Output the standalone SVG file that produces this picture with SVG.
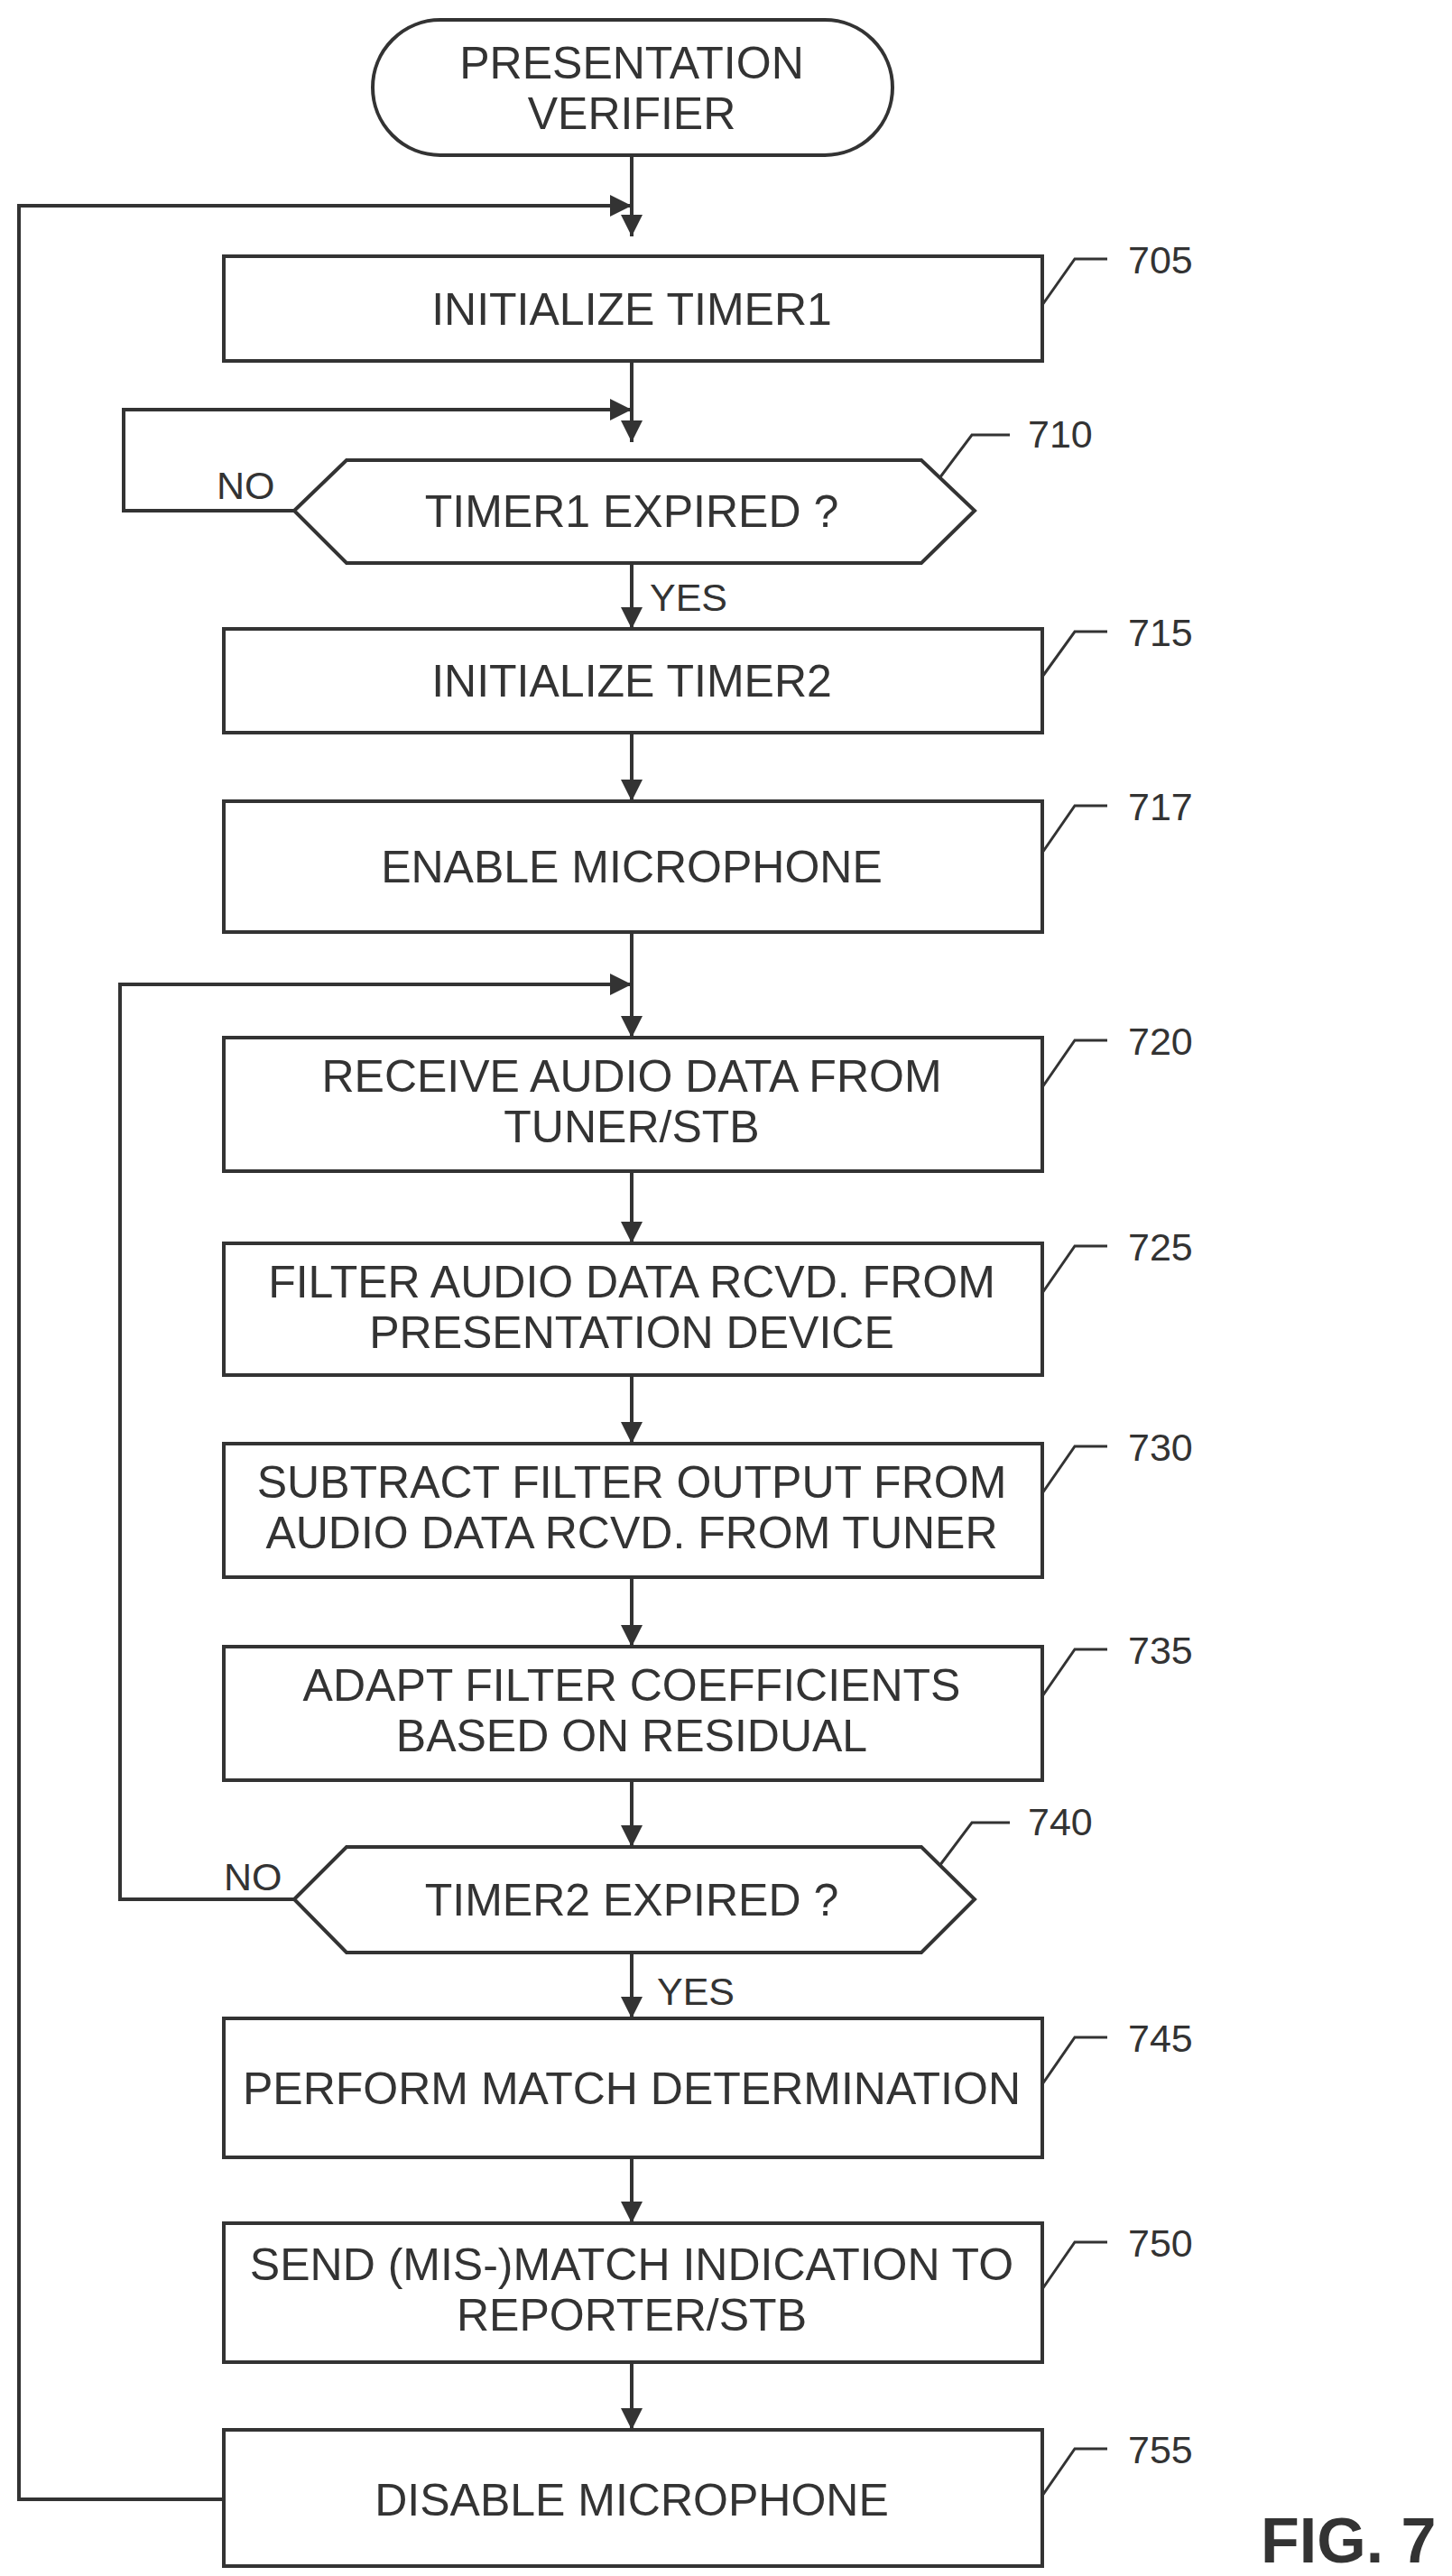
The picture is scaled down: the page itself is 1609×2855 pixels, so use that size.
<svg xmlns="http://www.w3.org/2000/svg" width="1609" height="2855" viewBox="0 0 1609 2855">
<defs>
<marker id="ah" markerWidth="10" markerHeight="10" refX="10" refY="5" orient="auto" markerUnits="userSpaceOnUse" viewBox="0 0 10 10" style="overflow:visible">
<path d="M0,0 L10,5 L0,10 Z" fill="#333" transform="scale(2.4)" transform-origin="10 5"/>
</marker>
<style>
.b{fill:#fff;stroke:#333;stroke-width:4}
.t{font-family:"Liberation Sans",Arial,sans-serif;font-size:50px;fill:#333;text-anchor:middle}
.n{font-family:"Liberation Sans",Arial,sans-serif;font-size:43px;fill:#333}
.c{fill:none;stroke:#333;stroke-width:4}
.l{fill:none;stroke:#333;stroke-width:3}
</style>
</defs>
<rect width="1609" height="2855" fill="#fff"/>
<g id="connectors">
<path class="c" d="M700,174 V262" marker-end="url(#ah)"/>
<path class="c" d="M248,2770 H21 V228 H700" marker-end="url(#ah)"/>
<path class="c" d="M700,400 V490" marker-end="url(#ah)"/>
<path class="c" d="M326,566 H137 V454 H700" marker-end="url(#ah)"/>
<path class="c" d="M700,624 V697" marker-end="url(#ah)"/>
<path class="c" d="M700,812 V888" marker-end="url(#ah)"/>
<path class="c" d="M700,1033 V1150" marker-end="url(#ah)"/>
<path class="c" d="M700,1298 V1378" marker-end="url(#ah)"/>
<path class="c" d="M700,1524 V1600" marker-end="url(#ah)"/>
<path class="c" d="M700,1748 V1825" marker-end="url(#ah)"/>
<path class="c" d="M700,1973 V2047" marker-end="url(#ah)"/>
<path class="c" d="M326,2105 H133 V1091 H700" marker-end="url(#ah)"/>
<path class="c" d="M700,2164 V2237" marker-end="url(#ah)"/>
<path class="c" d="M700,2391 V2464" marker-end="url(#ah)"/>
<path class="c" d="M700,2618 V2693" marker-end="url(#ah)"/>
<text class="n" x="240" y="553">NO</text>
<text class="n" x="720" y="677">YES</text>
<text class="n" x="248" y="2095">NO</text>
<text class="n" x="728" y="2222">YES</text>
</g>
<g id="start">
<rect class="b" x="413" y="22" width="576" height="150" rx="75"/>
<text class="t" x="700" y="87">PRESENTATION</text>
<text class="t" x="700" y="143">VERIFIER</text>
</g>
<g id="n705">
<rect class="b" x="248" y="284" width="907" height="116"/>
<text class="t" x="700" y="360">INITIALIZE TIMER1</text>
<path class="l" d="M1155,338 L1191,287 H1227"/><text class="n" x="1250" y="303">705</text>
</g>
<g id="n710">
<polygon class="b" points="326,566 384,510 1021,510 1080,566 1021,624 384,624"/>
<text class="t" x="700" y="584">TIMER1 EXPIRED ?</text>
<path class="l" d="M1041,530 L1077,482 H1119"/><text class="n" x="1139" y="496">710</text>
</g>
<g id="n715">
<rect class="b" x="248" y="697" width="907" height="115"/>
<text class="t" x="700" y="772">INITIALIZE TIMER2</text>
<path class="l" d="M1155,750 L1191,700 H1227"/><text class="n" x="1250" y="716">715</text>
</g>
<g id="n717">
<rect class="b" x="248" y="888" width="907" height="145"/>
<text class="t" x="700" y="978">ENABLE MICROPHONE</text>
<path class="l" d="M1155,945 L1191,893 H1227"/><text class="n" x="1250" y="909">717</text>
</g>
<g id="n720">
<rect class="b" x="248" y="1150" width="907" height="148"/>
<text class="t" x="700" y="1210">RECEIVE AUDIO DATA FROM</text>
<text class="t" x="700" y="1266">TUNER/STB</text>
<path class="l" d="M1155,1205 L1191,1153 H1227"/><text class="n" x="1250" y="1169">720</text>
</g>
<g id="n725">
<rect class="b" x="248" y="1378" width="907" height="146"/>
<text class="t" x="700" y="1438">FILTER AUDIO DATA RCVD. FROM</text>
<text class="t" x="700" y="1494">PRESENTATION DEVICE</text>
<path class="l" d="M1155,1433 L1191,1381 H1227"/><text class="n" x="1250" y="1397">725</text>
</g>
<g id="n730">
<rect class="b" x="248" y="1600" width="907" height="148"/>
<text class="t" x="700" y="1660">SUBTRACT FILTER OUTPUT FROM</text>
<text class="t" x="700" y="1716">AUDIO DATA RCVD. FROM TUNER</text>
<path class="l" d="M1155,1655 L1191,1603 H1227"/><text class="n" x="1250" y="1619">730</text>
</g>
<g id="n735">
<rect class="b" x="248" y="1825" width="907" height="148"/>
<text class="t" x="700" y="1885">ADAPT FILTER COEFFICIENTS</text>
<text class="t" x="700" y="1941">BASED ON RESIDUAL</text>
<path class="l" d="M1155,1880 L1191,1828 H1227"/><text class="n" x="1250" y="1844">735</text>
</g>
<g id="n740">
<polygon class="b" points="326,2105 384,2047 1021,2047 1080,2105 1021,2164 384,2164"/>
<text class="t" x="700" y="2123">TIMER2 EXPIRED ?</text>
<path class="l" d="M1041,2068 L1077,2020 H1119"/><text class="n" x="1139" y="2034">740</text>
</g>
<g id="n745">
<rect class="b" x="248" y="2237" width="907" height="154"/>
<text class="t" x="700" y="2332">PERFORM MATCH DETERMINATION</text>
<path class="l" d="M1155,2310 L1191,2258 H1227"/><text class="n" x="1250" y="2274">745</text>
</g>
<g id="n750">
<rect class="b" x="248" y="2464" width="907" height="154"/>
<text class="t" x="700" y="2527">SEND (MIS-)MATCH INDICATION TO</text>
<text class="t" x="700" y="2583">REPORTER/STB</text>
<path class="l" d="M1155,2537 L1191,2485 H1227"/><text class="n" x="1250" y="2501">750</text>
</g>
<g id="n755">
<rect class="b" x="248" y="2693" width="907" height="151"/>
<text class="t" x="700" y="2788">DISABLE MICROPHONE</text>
<path class="l" d="M1155,2766 L1191,2714 H1227"/><text class="n" x="1250" y="2730">755</text>
</g>
<text x="1397" y="2840" style="font-family:'Liberation Sans',Arial,sans-serif;font-size:70px;font-weight:bold;fill:#333">FIG. 7</text>
</svg>
